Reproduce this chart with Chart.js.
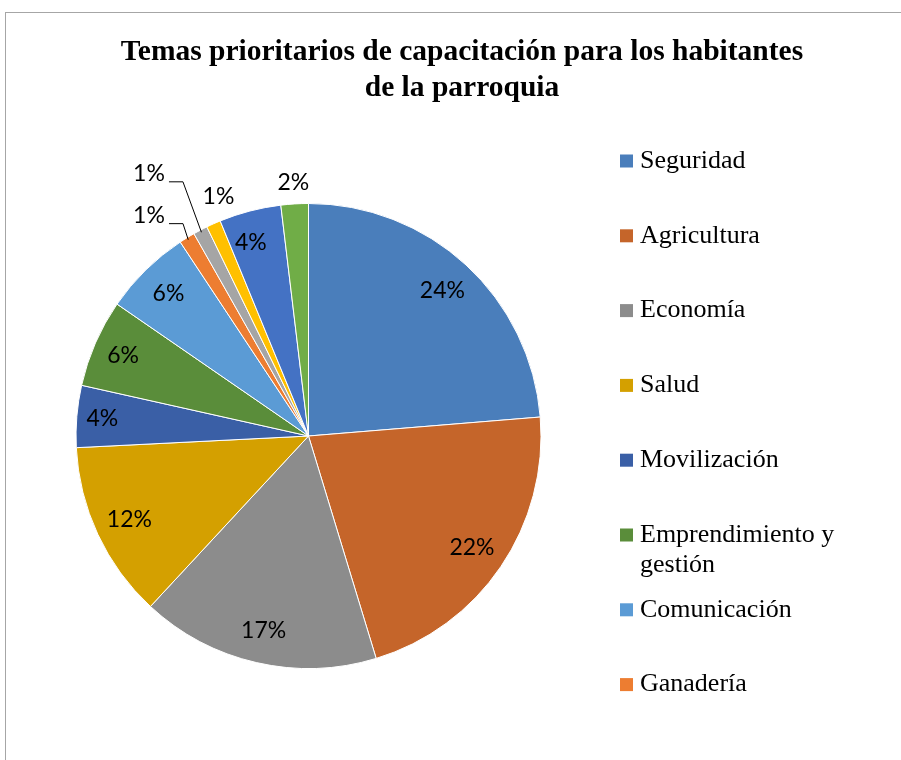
<!DOCTYPE html>
<html>
<head>
<meta charset="utf-8">
<title>Temas prioritarios de capacitación</title>
<script src="https://cdn.jsdelivr.net/npm/chart.js@4.4.1/dist/chart.umd.min.js"></script>
<style>
    html, body { margin: 0; padding: 0; background: #fff; overflow: hidden; width: 901px; height: 760px; }
    #frame { position: absolute; left: 5px; top: 12px; width: 912px; height: 760px; border: 1px solid #a6a6a6; }
    canvas { display: block; }
</style>
</head>
<body>
<div id="frame"><canvas id="pie" width="912" height="760"></canvas></div>
<script>
// categories (the last four are not shown in the cut-off legend)
var categories = [
    'Seguridad',
    'Agricultura',
    'Economía',
    'Salud',
    'Movilización',
    'Emprendimiento y gestión',
    'Comunicación',
    'Ganadería',
    'Tema 9',
    'Tema 10',
    'Tema 11',
    'Tema 12'
];

// share of answers, percent
var shares = [23.7, 21.6, 16.6, 12.3, 4.3, 6.1, 6.1, 1.1, 1.0, 1.0, 4.3, 1.9];

var sliceColors = [
    '#4a7ebb', '#c5652a', '#8c8c8c', '#d4a000', '#3a5fa6', '#5a8d3a',
    '#5b9bd5', '#ed7d31', '#a5a5a5', '#ffc000', '#4472c4', '#70ad47'
];

var titleLines = ['Temas prioritarios de capacitación para los habitantes', 'de la parroquia'];

var legendCount = 8;

// label placement: distance as part of the radius, angle shift in degrees
var labelRadius = [0.85, 0.85, 0.86, 0.85, 0.89, 0.87, 0.86, 1.17, 1.32, 1.10, 0.87, 1.09];
var labelShift  = [0, 0, 0, 0, 0, 0, 0, -4.4, -3.6, 3.5, -2, 0];
var hasLeader   = [false, false, false, false, false, false, false, true, true, false, false, false];

// title drawn by hand: the built-in one gets squeezed into the padded area
var wideTitle = {
    id: 'wideTitle',
    afterDraw: function(chart) {
        var ctx = chart.ctx;
        ctx.save();
        ctx.font = 'bold 29.5px "Liberation Serif"';
        ctx.fillStyle = '#000';
        ctx.textAlign = 'center';
        ctx.textBaseline = 'middle';
        titleLines.forEach(function(t, k) {
            ctx.fillText(t, 456, 39 + k * 36);
        });
        ctx.restore();
    }
};

var sliceLabels = {
    id: 'sliceLabels',
    afterDatasetsDraw: function(chart) {
        var ctx = chart.ctx;
        var arcs = chart.getDatasetMeta(0).data;

        ctx.save();
        ctx.font = '23px Lato';
        ctx.fillStyle = '#000';
        ctx.strokeStyle = '#000';
        ctx.lineWidth = 1;
        ctx.textAlign = 'center';
        ctx.textBaseline = 'middle';

        arcs.forEach(function(arc, i) {
            var p = arc.getProps(['x', 'y', 'startAngle', 'endAngle', 'outerRadius'], true);
            var mid = (p.startAngle + p.endAngle) / 2;
            var a = mid + labelShift[i] * Math.PI / 180;
            var lx = p.x + Math.cos(a) * p.outerRadius * labelRadius[i];
            var ly = p.y + Math.sin(a) * p.outerRadius * labelRadius[i];

            ctx.fillText(Math.round(shares[i]) + '%', lx, ly);

            if (hasLeader[i]) {
                ctx.beginPath();
                ctx.moveTo(lx + 20, ly + 8);
                ctx.lineTo(lx + 34, ly + 8);
                ctx.lineTo(p.x + Math.cos(mid) * p.outerRadius * 0.99,
                           p.y + Math.sin(mid) * p.outerRadius * 0.99);
                ctx.stroke();
            }
        });
        ctx.restore();
    }
};

// legend drawn by hand so long names can wrap like the original
var sideLegend = {
    id: 'sideLegend',
    afterDraw: function(chart) {
        var ctx = chart.ctx;
        var colors = chart.data.datasets[0].backgroundColor;
        var x = 614, top = 148, step = 74.8, box = 13, maxWidth = 215;

        ctx.save();
        ctx.font = '26px "Liberation Serif"';
        ctx.textBaseline = 'middle';
        ctx.textAlign = 'left';

        for (var i = 0; i < legendCount; i++) {
            var y = top + i * step;
            ctx.fillStyle = colors[i];
            ctx.fillRect(x, y - box / 2, box, box);

            // wrap words
            var words = chart.data.labels[i].split(' ');
            var lines = [], line = '';
            words.forEach(function(w) {
                var test = line ? line + ' ' + w : w;
                if (line && ctx.measureText(test).width > maxWidth) {
                    lines.push(line);
                    line = w;
                } else {
                    line = test;
                }
            });
            lines.push(line);

            ctx.fillStyle = '#000';
            lines.forEach(function(l, k) {
                ctx.fillText(l, x + 20, y + k * 30);
            });
        }
        ctx.restore();
    }
};

new Chart(document.getElementById('pie').getContext('2d'), {
    type: 'pie',
    data: {
        labels: categories,
        datasets: [{
            data: shares,
            backgroundColor: sliceColors,
            borderColor: '#ffffff',
            borderWidth: 1
        }]
    },
    options: {
        responsive: false,
        animation: false,
        layout: {
            padding: { left: 69, right: 376, bottom: 104, top: 190 }
        },
        plugins: {
            legend: { display: false },
            tooltip: { enabled: false },
            title: { display: false }
        }
    },
    plugins: [sliceLabels, sideLegend, wideTitle]
});
</script>
</body>
</html>
